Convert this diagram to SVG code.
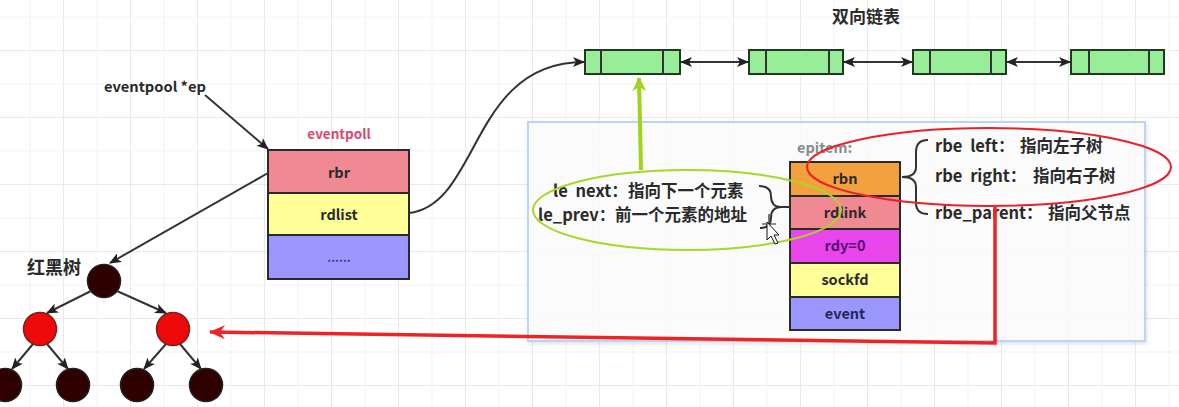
<svg xmlns="http://www.w3.org/2000/svg" width="1179" height="407" viewBox="0 0 1179 407">
<defs>
<pattern id="grid" x="-4" y="50" width="67" height="67" patternUnits="userSpaceOnUse">
<path d="M0,0.5 H67 M0.5,0 V67" stroke="#e9e9e9" stroke-width="1" fill="none"/>
<path d="M0,34 H67 M34,0 V67" stroke="#f3f3f3" stroke-width="1" fill="none"/>
</pattern>
<marker id="ah" viewBox="0 0 12 10" refX="11" refY="5" markerWidth="12" markerHeight="10" markerUnits="userSpaceOnUse" orient="auto-start-reverse">
<path d="M0,0 L12,5 L0,10 L3,5 Z" fill="#222"/>
</marker>
<marker id="ahg" viewBox="0 0 14 14" refX="13" refY="7" markerWidth="14" markerHeight="14" markerUnits="userSpaceOnUse" orient="auto">
<path d="M0,0 L14,7 L0,14 L4,7 Z" fill="#9fd41a"/>
</marker>
<marker id="ahr" viewBox="0 0 16 14" refX="15" refY="7" markerWidth="16" markerHeight="14" markerUnits="userSpaceOnUse" orient="auto">
<path d="M0,0 L16,7 L0,14 L5,7 Z" fill="#ee2424"/>
</marker>
<filter id="sh" x="-5%" y="-5%" width="110%" height="110%">
<feDropShadow dx="1" dy="2" stdDeviation="2" flood-color="#8899aa" flood-opacity="0.3"/>
</filter>
</defs>
<style>
.t{font-family:"Noto Sans CJK SC","Liberation Sans",sans-serif;font-weight:bold;fill:#2a2a2a}
.c{text-anchor:middle}
.n{font-size:16.5px;word-spacing:4px}
.cell{stroke:#2a2a2a;stroke-width:2}
.ln{stroke:#333;stroke-width:2;fill:none}
.tree{stroke:#333;stroke-width:2;fill:none;marker-end:url(#ah)}
.dk{fill:#2e0000;stroke:#222;stroke-width:1.5}
.rd{fill:#ee0a0a;stroke:#7a2020;stroke-width:1.5}
.lnode{fill:#98ee98;stroke:#1f3a1f;stroke-width:2}
</style>
<rect width="1179" height="407" fill="#ffffff"/>
<rect width="1179" height="407" fill="url(#grid)"/>

<g id="panel">
<rect x="528" y="122" width="617" height="219" fill="#ffffff" fill-opacity="0.8" stroke="#b9d5f2" stroke-width="2" filter="url(#sh)"/>
</g>

<g id="title-list"><text class="t c" x="866" y="23" font-size="17">双向链表</text></g>

<g id="list-node-1">
<rect class="lnode" x="585" y="50" width="95" height="24"/>
<path class="ln" d="M601,50 V74 M663,50 V74" stroke="#1f3a1f"/>
</g>
<g id="list-node-2">
<rect class="lnode" x="749" y="50" width="94" height="24"/>
<path class="ln" d="M766,50 V74 M829,50 V74" stroke="#1f3a1f"/>
</g>
<g id="list-node-3">
<rect class="lnode" x="913" y="50" width="93" height="24"/>
<path class="ln" d="M930,50 V74 M991,50 V74" stroke="#1f3a1f"/>
</g>
<g id="list-node-4">
<rect class="lnode" x="1071" y="50" width="93" height="24"/>
<path class="ln" d="M1089,50 V74 M1149,50 V74" stroke="#1f3a1f"/>
</g>

<g id="ep-label"><text class="t" x="104" y="92" font-size="14" textLength="102" lengthAdjust="spacingAndGlyphs">eventpool *ep</text></g>

<g id="eventpoll">
<text class="t c" x="339" y="139" font-size="13.5" style="fill:#d8496e">eventpoll</text>
<rect class="cell" x="268" y="150" width="141" height="43" fill="#f08a92"/>
<rect class="cell" x="268" y="193" width="141" height="42" fill="#ffff99"/>
<rect class="cell" x="268" y="235" width="141" height="44" fill="#9c96ff"/>
<text class="t c" x="339" y="178" font-size="14.5">rbr</text>
<text class="t c" x="339" y="220" font-size="14.5">rdlist</text>
<text class="t c" x="339" y="262" font-size="12" style="fill:#3c3c88">......</text>
</g>

<g id="rbtree-label"><text class="t" x="27" y="274" font-size="18">红黑树</text></g>
<g id="tree-root"><circle class="dk" cx="104" cy="281" r="16.5"/></g>
<g id="tree-red-left"><circle class="rd" cx="40" cy="329" r="16.5"/></g>
<g id="tree-red-right"><circle class="rd" cx="173" cy="329" r="16.5"/></g>
<g id="tree-leaf-1"><circle class="dk" cx="5" cy="385" r="16.5"/></g>
<g id="tree-leaf-2"><circle class="dk" cx="73" cy="385" r="16.5"/></g>
<g id="tree-leaf-3"><circle class="dk" cx="137" cy="385" r="16.5"/></g>
<g id="tree-leaf-4"><circle class="dk" cx="206" cy="385" r="16.5"/></g>

<g id="epitem">
<text class="t" x="797" y="153" font-size="14.5" style="fill:#8a8a8a">epitem:</text>
<rect class="cell" x="790" y="162" width="110" height="34" fill="#f3a03e"/>
<rect class="cell" x="790" y="196" width="110" height="33" fill="#f08a92"/>
<rect class="cell" x="790" y="229" width="110" height="34" fill="#e846ea"/>
<rect class="cell" x="790" y="263" width="110" height="34" fill="#ffff99"/>
<rect class="cell" x="790" y="297" width="110" height="33" fill="#9c96ff"/>
<text class="t c" x="845" y="184" font-size="14.5">rbn</text>
<text class="t c" x="845" y="218" font-size="14.5">rdlink</text>
<text class="t c" x="845" y="251" font-size="14.5" style="fill:#5a0a7a">rdy=0</text>
<text class="t c" x="845" y="285" font-size="14.5">sockfd</text>
<text class="t c" x="845" y="319" font-size="14.5" style="fill:#222a55">event</text>
</g>

<g id="le-notes">
<text class="t n" y="197"><tspan x="553">le next：</tspan><tspan x="628">指向下一个元素</tspan></text>
<text class="t n" y="221"><tspan x="538">le_prev：</tspan><tspan x="615">前一个元素的地址</tspan></text>
<path class="ln" d="M759,186 Q771,186 771,196 Q771,207 781,207 L790,207 M781,207 Q771,207 771,218 Q771,228 760,228" stroke="#222"/>
</g>

<g id="rbe-notes">
<text class="t n" y="152"><tspan x="935">rbe left：</tspan><tspan x="1020">指向左子树</tspan></text>
<text class="t n" y="182"><tspan x="935">rbe right：</tspan><tspan x="1033">指向右子树</tspan></text>
<text class="t n" y="219"><tspan x="935">rbe_parent：</tspan><tspan x="1048">指向父节点</tspan></text>
<path class="ln" d="M928,140 Q916,140 916,152 L916,167 Q916,177 902,177 Q916,177 916,187 L916,203 Q916,214 928,214" stroke="#222"/>
</g>

<g id="connectors">
<line x1="205" y1="95" x2="268" y2="149" class="ln" marker-end="url(#ah)"/>
<line x1="268" y1="173" x2="110" y2="263" class="ln" marker-end="url(#ah)"/>
<path d="M409,213 C480,205 470,62 584,62" class="ln" marker-end="url(#ah)"/>
<line x1="681" y1="62" x2="748" y2="62" class="ln" marker-start="url(#ah)" marker-end="url(#ah)"/>
<line x1="844" y1="62" x2="912" y2="62" class="ln" marker-start="url(#ah)" marker-end="url(#ah)"/>
<line x1="1007" y1="62" x2="1070" y2="62" class="ln" marker-start="url(#ah)" marker-end="url(#ah)"/>
<line x1="91" y1="291" x2="47" y2="313" class="tree"/>
<line x1="117" y1="291" x2="166" y2="313" class="tree"/>
<line x1="33" y1="344" x2="12" y2="369" class="tree"/>
<line x1="47" y1="344" x2="68" y2="369" class="tree"/>
<line x1="166" y1="344" x2="144" y2="369" class="tree"/>
<line x1="180" y1="344" x2="201" y2="369" class="tree"/>
<line x1="641" y1="170" x2="639" y2="78" stroke="#9fd41a" stroke-width="4" marker-end="url(#ahg)"/>
<ellipse cx="687" cy="210" rx="154" ry="40" fill="none" stroke="#a6d826" stroke-width="2"/>
<ellipse cx="989" cy="167" rx="182" ry="39" fill="none" stroke="#e8222a" stroke-width="2"/>
<path d="M995,207 V343 L210,332" fill="none" stroke="#ee2424" stroke-width="3.5" marker-end="url(#ahr)"/>
</g>

<g id="cursor">
<path d="M769,214 V234 M762,224 H776" stroke="#222" stroke-width="1.2"/>
<path d="M767,222 L767,240 L771,236 L775,244 L778,243 L774,235 L779,235 Z" fill="#fff" stroke="#111" stroke-width="1"/>
</g>
</svg>
